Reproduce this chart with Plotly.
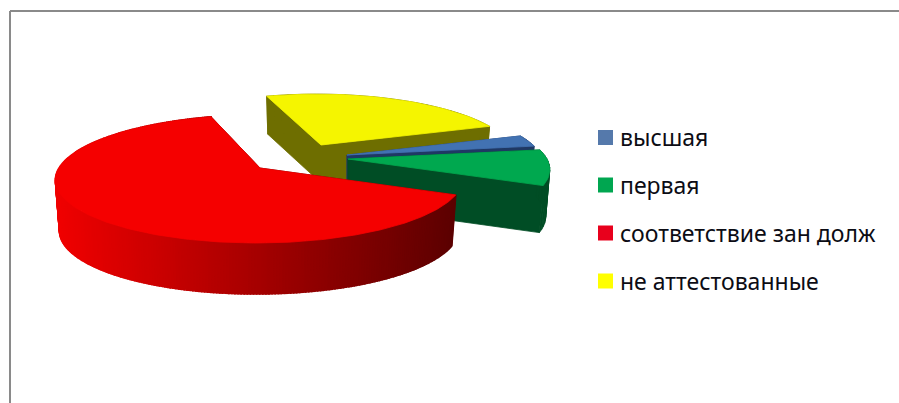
import numpy as np
import plotly.graph_objects as go

# --- data ---
categories = ["высшая", "первая", "соответствие зан долж", "не аттестованные"]
values = [3, 9, 63.5, 24.5]

# --- style ---
top_colors = ["#4272b2", "#00a84f", "#f50000", "#f5f500"]
side_colors = ["#1f3864", "#004d25", "#5c0000", "#6e6e00"]
legend_colors = ["#5579ab", "#00a650", "#e8001c", "#ffff00"]
anchors = [(347, 155), (348, 159), (260, 168), (321, 145)]
radius_scale = [0.965, 0.99, 1.0, 0.945]
shear = [0, 0, 4, -4.6]
depths = [40, 47, 51, 38]
draw_order = [3, 0, 1, 2]
legend_y = [137.5, 185, 233, 281]
START_DEG = 19.5
RX, KY, PERSP, BASE_SHRINK = 201.0, 62.4, 0.168, 0.98

W, H = 899, 403
fig = go.Figure()


def project(i, deg):
    a, s = anchors[i], radius_scale[i]
    t = np.radians(deg)
    X, Y = s * np.cos(t), s * np.sin(t)
    w = 1 + PERSP * Y
    return a[0] + RX * X / w + shear[i] * Y, a[1] - KY * Y / w


def poly(xs, ys, color, lw=0.8):
    fig.add_trace(go.Scatter(
        x=list(xs) + [xs[0]], y=list(ys) + [ys[0]], mode="lines", fill="toself",
        fillcolor=color, line=dict(color=color, width=lw),
        hoverinfo="skip", showlegend=False))


def base(anchor, x, y, depth):
    return anchor[0] + (x - anchor[0]) * BASE_SHRINK, y + depth


def mix(frac):
    return "rgb(%d,0,0)" % round(240 + (92 - 240) * frac)


shares = np.array(values) / sum(values) * 360
ends = START_DEG - np.cumsum(shares)
starts = ends + shares

for i in draw_order:
    a, d = anchors[i], depths[i]
    step = 0.75 if i == 2 else 2.5
    angles = np.linspace(starts[i], ends[i], max(8, int(shares[i] / step)) + 1)
    arc = [project(i, g) for g in angles]
    # radial cut faces
    for px, py in (arc[0], arc[-1]):
        bx, by = base(a, px, py, d)
        poly([a[0], px, bx, a[0]], [a[1], py, by, a[1] + d], side_colors[i])
    # outer wall
    for (x0, y0), (x1, y1) in zip(arc[:-1], arc[1:]):
        bx0, by0 = base(a, x0, y0, d)
        bx1, by1 = base(a, x1, y1, d)
        if i == 2:
            color = mix(np.clip(((x0 + x1) / 2 - 55) / 400, 0, 1))
            poly([x0, x1, bx1, bx0], [y0, y1, by1, by0], color, lw=1.6)
        else:
            poly([x0, x1, bx1, bx0], [y0, y1, by1, by0], side_colors[i])
    # top face
    xs = [a[0]] + [p[0] for p in arc]
    ys = [a[1]] + [p[1] for p in arc]
    poly(xs, ys, top_colors[i])

# legend
fig.add_trace(go.Scatter(
    x=[605.5] * len(categories), y=legend_y, mode="markers",
    marker=dict(symbol="square", size=15, color=legend_colors, line=dict(width=0)),
    hoverinfo="skip", showlegend=False))
for name, y in zip(categories, legend_y):
    fig.add_annotation(x=618, y=y - 0.5, text=name, showarrow=False, xanchor="left",
                       yanchor="middle", font=dict(family="Noto Sans", size=23, color="#0c0c14"))

# frame
line = dict(color="#8a8a8a", width=2)
fig.add_shape(type="line", x0=10, x1=899, y0=11, y1=11, line=line)
fig.add_shape(type="line", x0=10, x1=10, y0=11, y1=403, line=line)

fig.update_layout(
    width=W, height=H, margin=dict(l=0, r=0, t=0, b=0),
    paper_bgcolor="white", plot_bgcolor="white", showlegend=False,
    xaxis=dict(range=[0, W], visible=False, fixedrange=True),
    yaxis=dict(range=[H, 0], visible=False, fixedrange=True))
fig.write_html("out.html", config={"displayModeBar": False},
               post_script="document.body.style.margin='0';document.body.style.overflow='hidden';")
